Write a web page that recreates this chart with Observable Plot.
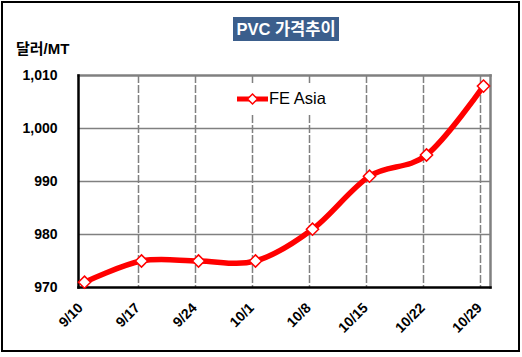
<!DOCTYPE html>
<html><head><meta charset="utf-8">
<script src="https://cdn.jsdelivr.net/npm/d3@7"></script>
<script src="https://cdn.jsdelivr.net/npm/@observablehq/plot@0.6"></script>
<style>
body{margin:0;background:#fff;font-family:"Liberation Sans",Arial,"Noto Sans CJK KR",sans-serif;}
#wrap{position:relative;width:522px;height:357px;}
#border{position:absolute;left:1px;top:1px;width:515px;height:347px;border:2px solid #000;}
#title{position:absolute;left:233px;top:17px;width:106px;height:24px;background:#3B5E8C;color:#fff;font-weight:bold;font-size:16.5px;line-height:24px;text-align:center;white-space:nowrap;font-family:"Liberation Sans",Arial,"Noto Sans CJK KR",sans-serif;}
#unit{position:absolute;left:16px;top:37px;font-weight:bold;font-size:15px;font-family:"Liberation Sans",Arial,"Noto Sans CJK KR",sans-serif;}
#legend{position:absolute;left:230px;top:83px;width:105px;height:31px;box-sizing:border-box;padding-left:6px;background:#fff;display:flex;align-items:center;font-size:16.5px;}
#chart{position:absolute;left:0;top:0;}
</style></head>
<body>
<div id="wrap">
<div id="chart"></div>
<div id="border"></div>
<div id="title">PVC 가격추이</div>
<div id="unit">달러/MT</div>
<div id="legend"><svg width="33" height="14"><line x1="1" y1="7" x2="32" y2="7" stroke="#ff0000" stroke-width="5"/><path d="M16.5,2 L21.5,7 L16.5,12 L11.5,7 Z" fill="#fff" stroke="#ff0000" stroke-width="1.5"/></svg><span>FE Asia</span></div>
</div>
<script>
const dates = ["9/10","9/17","9/24","10/1","10/8","10/15","10/22","10/29"];
const feAsia = [971, 975, 975, 975, 981, 991, 995, 1008];
const yTicks = [970, 980, 990, 1000, 1010];

const data = dates.map((d, i) => ({date: d, value: feAsia[i]}));

const chart = Plot.plot({
  width: 522,
  height: 357,
  marginLeft: 78,
  marginRight: 32,
  marginTop: 75,
  marginBottom: 70,
  style: {fontFamily: '"Liberation Sans", Arial, sans-serif', background: "transparent"},
  x: {type: "point", domain: dates, padding: 0, insetLeft: 3, insetRight: 5, label: null},
  y: {domain: [970, 1010], label: null},
  marks: [
    Plot.ruleY(yTicks.slice(1, -1), {stroke: "#808080", strokeWidth: 1.5}),
    Plot.ruleX(dates.slice(1), {stroke: "#808080", strokeWidth: 1.5, strokeDasharray: "8,2", dx: -3}),
    Plot.frame({anchor: "top", stroke: "#808080", strokeWidth: 2.5}),
    Plot.frame({anchor: "right", stroke: "#808080", strokeWidth: 2.5}),
    Plot.frame({anchor: "left", stroke: "#000", strokeWidth: 2.5}),
    Plot.frame({anchor: "bottom", stroke: "#000", strokeWidth: 2.5}),
    Plot.axisY({ticks: yTicks, tickFormat: d3.format(","), tickSize: 0, tickPadding: 21, fontSize: 14, fontWeight: "bold", fill: "#000", label: null}),
    Plot.axisX({tickSize: 0, tickRotate: -45, tickPadding: 18, fontSize: 14, fontWeight: "bold", fill: "#000", dx: -4, label: null}),
    Plot.line(data, {x: "date", y: "value", stroke: "#ff0000", strokeWidth: 5.5, curve: "cardinal"}),
    Plot.dot(data, {x: "date", y: "value", symbol: "diamond2", r: 5.5, fill: "#fff", stroke: "#ff0000", strokeWidth: 1.5})
  ]
});
document.getElementById("chart").appendChild(chart);
</script>
</body></html>
